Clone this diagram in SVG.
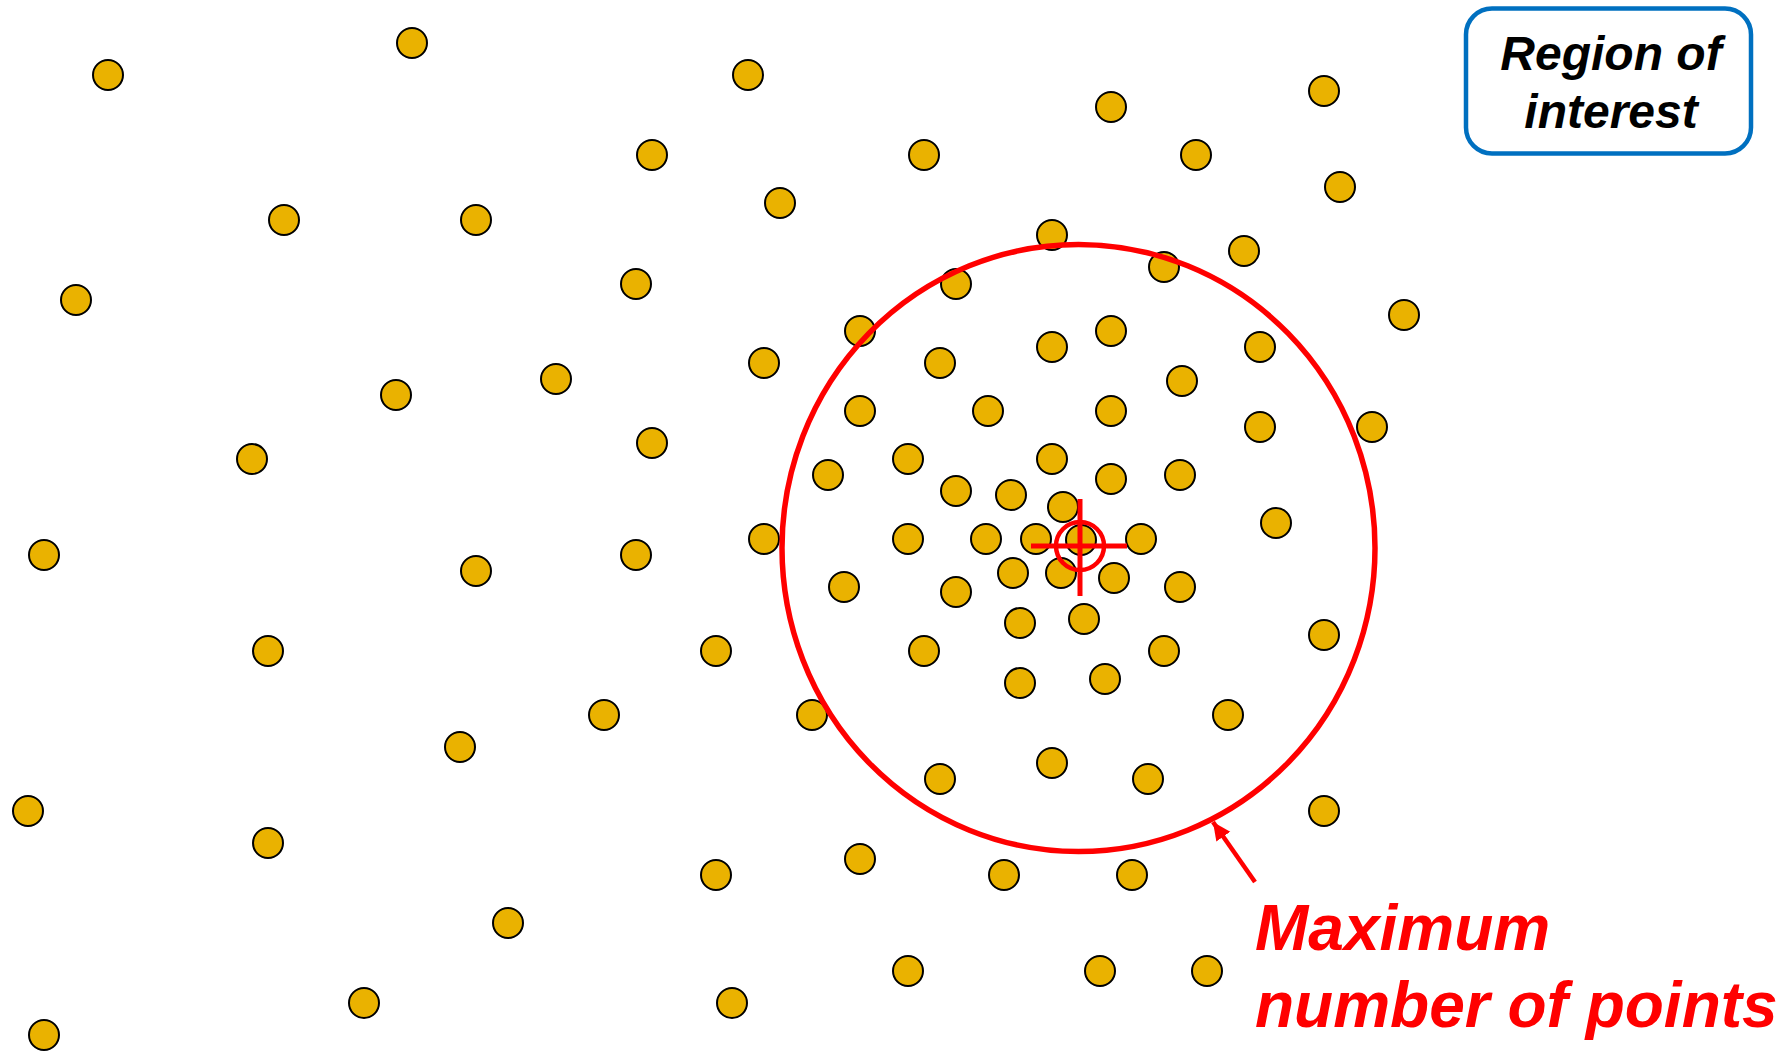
<svg xmlns="http://www.w3.org/2000/svg" width="1789" height="1051" viewBox="0 0 1789 1051">
<style>
.pt{fill:#EAB200;stroke:#000;stroke-width:2}
.red{fill:none;stroke:#FF0000}
.roi{font-family:"Liberation Sans",Arial,sans-serif;font-weight:bold;font-style:italic;font-size:48px;fill:#000;text-anchor:middle}
.lbl{font-family:"Liberation Sans",Arial,sans-serif;font-weight:bold;font-style:italic;font-size:64px;fill:#FF0000}
</style>
<defs>
<marker id="ah" markerUnits="userSpaceOnUse" markerWidth="20" markerHeight="20" viewBox="0 0 20 20" refX="18" refY="10" orient="auto">
<path d="M0,1.5 L18,10 L0,18.5 Z" fill="#FF0000"/>
</marker>
</defs>
<rect width="1789" height="1051" fill="#fff"/>
<g id="points">
<circle class="pt" r="15" cx="108" cy="75"/>
<circle class="pt" r="15" cx="412" cy="43"/>
<circle class="pt" r="15" cx="748" cy="75"/>
<circle class="pt" r="15" cx="652" cy="155"/>
<circle class="pt" r="15" cx="924" cy="155"/>
<circle class="pt" r="15" cx="1111" cy="107"/>
<circle class="pt" r="15" cx="1196" cy="155"/>
<circle class="pt" r="15" cx="1324" cy="91"/>
<circle class="pt" r="15" cx="1340" cy="187"/>
<circle class="pt" r="15" cx="284" cy="220"/>
<circle class="pt" r="15" cx="476" cy="220"/>
<circle class="pt" r="15" cx="780" cy="203"/>
<circle class="pt" r="15" cx="1052" cy="235"/>
<circle class="pt" r="15" cx="1244" cy="251"/>
<circle class="pt" r="15" cx="76" cy="300"/>
<circle class="pt" r="15" cx="636" cy="284"/>
<circle class="pt" r="15" cx="956" cy="284"/>
<circle class="pt" r="15" cx="1164" cy="267"/>
<circle class="pt" r="15" cx="1404" cy="315"/>
<circle class="pt" r="15" cx="860" cy="331"/>
<circle class="pt" r="15" cx="1111" cy="331"/>
<circle class="pt" r="15" cx="1052" cy="347"/>
<circle class="pt" r="15" cx="940" cy="363"/>
<circle class="pt" r="15" cx="764" cy="363"/>
<circle class="pt" r="15" cx="1260" cy="347"/>
<circle class="pt" r="15" cx="1182" cy="381"/>
<circle class="pt" r="15" cx="556" cy="379"/>
<circle class="pt" r="15" cx="396" cy="395"/>
<circle class="pt" r="15" cx="860" cy="411"/>
<circle class="pt" r="15" cx="988" cy="411"/>
<circle class="pt" r="15" cx="1111" cy="411"/>
<circle class="pt" r="15" cx="1260" cy="427"/>
<circle class="pt" r="15" cx="1372" cy="427"/>
<circle class="pt" r="15" cx="652" cy="443"/>
<circle class="pt" r="15" cx="252" cy="459"/>
<circle class="pt" r="15" cx="908" cy="459"/>
<circle class="pt" r="15" cx="1052" cy="459"/>
<circle class="pt" r="15" cx="828" cy="475"/>
<circle class="pt" r="15" cx="1111" cy="479"/>
<circle class="pt" r="15" cx="1180" cy="475"/>
<circle class="pt" r="15" cx="956" cy="491"/>
<circle class="pt" r="15" cx="1011" cy="495"/>
<circle class="pt" r="15" cx="1063" cy="507"/>
<circle class="pt" r="15" cx="1276" cy="523"/>
<circle class="pt" r="15" cx="44" cy="555"/>
<circle class="pt" r="15" cx="476" cy="571"/>
<circle class="pt" r="15" cx="636" cy="555"/>
<circle class="pt" r="15" cx="764" cy="539"/>
<circle class="pt" r="15" cx="908" cy="539"/>
<circle class="pt" r="15" cx="986" cy="539"/>
<circle class="pt" r="15" cx="1036" cy="539"/>
<circle class="pt" r="15" cx="1081" cy="540"/>
<circle class="pt" r="15" cx="1141" cy="539"/>
<circle class="pt" r="15" cx="1013" cy="573"/>
<circle class="pt" r="15" cx="1061" cy="573"/>
<circle class="pt" r="15" cx="1114" cy="578"/>
<circle class="pt" r="15" cx="1180" cy="587"/>
<circle class="pt" r="15" cx="844" cy="587"/>
<circle class="pt" r="15" cx="956" cy="592"/>
<circle class="pt" r="15" cx="1020" cy="623"/>
<circle class="pt" r="15" cx="1084" cy="619"/>
<circle class="pt" r="15" cx="1324" cy="635"/>
<circle class="pt" r="15" cx="268" cy="651"/>
<circle class="pt" r="15" cx="716" cy="651"/>
<circle class="pt" r="15" cx="924" cy="651"/>
<circle class="pt" r="15" cx="1164" cy="651"/>
<circle class="pt" r="15" cx="1105" cy="679"/>
<circle class="pt" r="15" cx="1020" cy="683"/>
<circle class="pt" r="15" cx="604" cy="715"/>
<circle class="pt" r="15" cx="812" cy="715"/>
<circle class="pt" r="15" cx="1228" cy="715"/>
<circle class="pt" r="15" cx="460" cy="747"/>
<circle class="pt" r="15" cx="1052" cy="763"/>
<circle class="pt" r="15" cx="940" cy="779"/>
<circle class="pt" r="15" cx="1148" cy="779"/>
<circle class="pt" r="15" cx="28" cy="811"/>
<circle class="pt" r="15" cx="268" cy="843"/>
<circle class="pt" r="15" cx="1324" cy="811"/>
<circle class="pt" r="15" cx="860" cy="859"/>
<circle class="pt" r="15" cx="716" cy="875"/>
<circle class="pt" r="15" cx="1004" cy="875"/>
<circle class="pt" r="15" cx="1132" cy="875"/>
<circle class="pt" r="15" cx="508" cy="923"/>
<circle class="pt" r="15" cx="908" cy="971"/>
<circle class="pt" r="15" cx="1100" cy="971"/>
<circle class="pt" r="15" cx="1207" cy="971"/>
<circle class="pt" r="15" cx="364" cy="1003"/>
<circle class="pt" r="15" cx="732" cy="1003"/>
<circle class="pt" r="15" cx="44" cy="1035"/>
</g>
<g id="search-circle">
<ellipse class="red" cx="1078.5" cy="548" rx="296.5" ry="303.5" stroke-width="5.5"/>
</g>
<g id="crosshair">
<circle class="red" cx="1080" cy="546" r="24" stroke-width="4.5"/>
<line class="red" x1="1031" y1="546" x2="1127" y2="546" stroke-width="5"/>
<line class="red" x1="1080" y1="499" x2="1080" y2="596" stroke-width="5"/>
</g>
<g id="roi-label">
<rect x="1466" y="8.5" width="285" height="145" rx="26" fill="#fff" stroke="#0070C0" stroke-width="4.5"/>
<text class="roi" x="1611" y="70">Region of</text>
<text class="roi" x="1611" y="128">interest</text>
</g>
<g id="connectors">
<line x1="1255" y1="882" x2="1213" y2="822" stroke="#FF0000" stroke-width="4.5" marker-end="url(#ah)"/>
</g>
<g id="max-label">
<text class="lbl" x="1255" y="950">Maximum</text>
<text class="lbl" x="1255" y="1027">number of points</text>
</g>
</svg>
